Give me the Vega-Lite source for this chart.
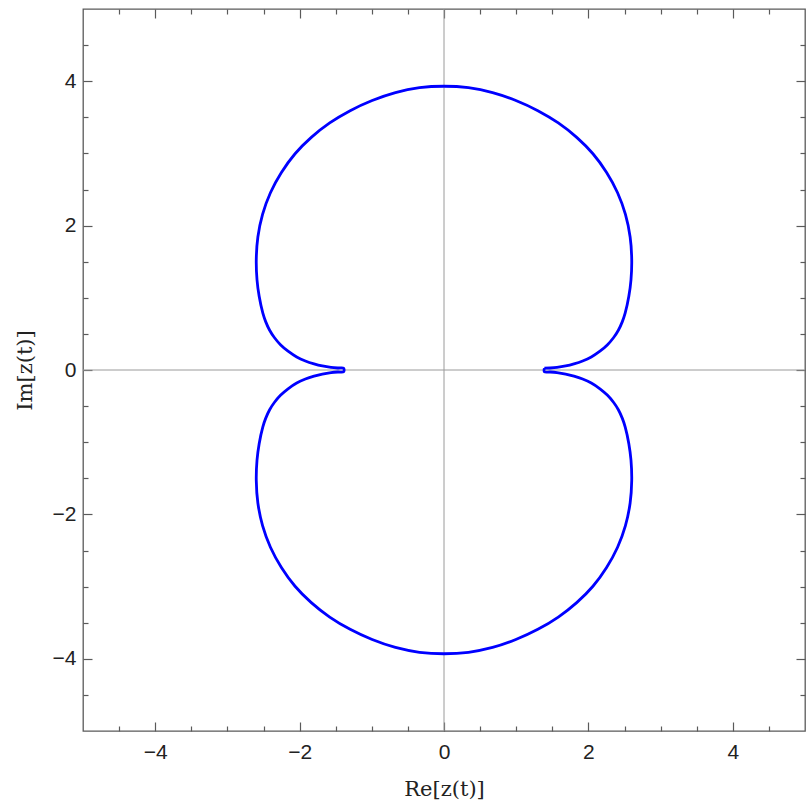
{
  "$schema": "https://vega.github.io/schema/vega-lite/v6.json",
  "width": 722,
  "height": 722,
  "autosize": {"type": "none"},
  "padding": {"left": 83, "top": 9, "right": 6, "bottom": 76},
  "background": "white",
  "config": {
    "view": {"stroke": "#5a5a5a", "strokeWidth": 1.3},
    "axis": {
      "domain": false,
      "grid": false,
      "tickColor": "#5a5a5a",
      "tickWidth": 1.2,
      "labelFont": "Liberation Sans",
      "labelFontSize": 21,
      "labelColor": "#222222",
      "titleFont": "DejaVu Serif",
      "titleFontSize": 21,
      "titleFontWeight": "normal",
      "titleColor": "#222222"
    }
  },
  "data": {
    "values": [
      {"i": 0, "x": 1.39, "y": 0.025},
      {"i": 1, "x": 1.47, "y": 0.028},
      {"i": 2, "x": 1.565, "y": 0.036},
      {"i": 3, "x": 1.685, "y": 0.056},
      {"i": 4, "x": 1.8, "y": 0.085},
      {"i": 5, "x": 1.92, "y": 0.125},
      {"i": 6, "x": 2.04, "y": 0.18},
      {"i": 7, "x": 2.16, "y": 0.26},
      {"i": 8, "x": 2.265, "y": 0.35},
      {"i": 9, "x": 2.35, "y": 0.45},
      {"i": 10, "x": 2.415, "y": 0.55},
      {"i": 11, "x": 2.47, "y": 0.67},
      {"i": 12, "x": 2.51, "y": 0.79},
      {"i": 13, "x": 2.56, "y": 1.02},
      {"i": 14, "x": 2.59, "y": 1.25},
      {"i": 15, "x": 2.6, "y": 1.53},
      {"i": 16, "x": 2.578, "y": 1.843},
      {"i": 17, "x": 2.513, "y": 2.155},
      {"i": 18, "x": 2.404, "y": 2.455},
      {"i": 19, "x": 2.252, "y": 2.735},
      {"i": 20, "x": 2.063, "y": 2.995},
      {"i": 21, "x": 1.838, "y": 3.222},
      {"i": 22, "x": 1.583, "y": 3.422},
      {"i": 23, "x": 1.3, "y": 3.592},
      {"i": 24, "x": 0.995, "y": 3.733},
      {"i": 25, "x": 0.673, "y": 3.843},
      {"i": 26, "x": 0.339, "y": 3.91},
      {"i": 27, "x": 0, "y": 3.93},
      {"i": 28, "x": -0.339, "y": 3.91},
      {"i": 29, "x": -0.673, "y": 3.843},
      {"i": 30, "x": -0.995, "y": 3.733},
      {"i": 31, "x": -1.3, "y": 3.592},
      {"i": 32, "x": -1.583, "y": 3.422},
      {"i": 33, "x": -1.838, "y": 3.222},
      {"i": 34, "x": -2.063, "y": 2.995},
      {"i": 35, "x": -2.252, "y": 2.735},
      {"i": 36, "x": -2.404, "y": 2.455},
      {"i": 37, "x": -2.513, "y": 2.155},
      {"i": 38, "x": -2.578, "y": 1.843},
      {"i": 39, "x": -2.6, "y": 1.53},
      {"i": 40, "x": -2.59, "y": 1.25},
      {"i": 41, "x": -2.56, "y": 1.02},
      {"i": 42, "x": -2.51, "y": 0.79},
      {"i": 43, "x": -2.47, "y": 0.67},
      {"i": 44, "x": -2.415, "y": 0.55},
      {"i": 45, "x": -2.35, "y": 0.45},
      {"i": 46, "x": -2.265, "y": 0.35},
      {"i": 47, "x": -2.16, "y": 0.26},
      {"i": 48, "x": -2.04, "y": 0.18},
      {"i": 49, "x": -1.92, "y": 0.125},
      {"i": 50, "x": -1.8, "y": 0.085},
      {"i": 51, "x": -1.685, "y": 0.056},
      {"i": 52, "x": -1.565, "y": 0.036},
      {"i": 53, "x": -1.47, "y": 0.028},
      {"i": 54, "x": -1.39, "y": 0.025},
      {"i": 55, "x": -1.39, "y": -0.025},
      {"i": 56, "x": -1.47, "y": -0.028},
      {"i": 57, "x": -1.565, "y": -0.036},
      {"i": 58, "x": -1.685, "y": -0.056},
      {"i": 59, "x": -1.8, "y": -0.085},
      {"i": 60, "x": -1.92, "y": -0.125},
      {"i": 61, "x": -2.04, "y": -0.18},
      {"i": 62, "x": -2.16, "y": -0.26},
      {"i": 63, "x": -2.265, "y": -0.35},
      {"i": 64, "x": -2.35, "y": -0.45},
      {"i": 65, "x": -2.415, "y": -0.55},
      {"i": 66, "x": -2.47, "y": -0.67},
      {"i": 67, "x": -2.51, "y": -0.79},
      {"i": 68, "x": -2.56, "y": -1.02},
      {"i": 69, "x": -2.59, "y": -1.25},
      {"i": 70, "x": -2.6, "y": -1.53},
      {"i": 71, "x": -2.578, "y": -1.843},
      {"i": 72, "x": -2.513, "y": -2.155},
      {"i": 73, "x": -2.404, "y": -2.455},
      {"i": 74, "x": -2.252, "y": -2.735},
      {"i": 75, "x": -2.063, "y": -2.995},
      {"i": 76, "x": -1.838, "y": -3.222},
      {"i": 77, "x": -1.583, "y": -3.422},
      {"i": 78, "x": -1.3, "y": -3.592},
      {"i": 79, "x": -0.995, "y": -3.733},
      {"i": 80, "x": -0.673, "y": -3.843},
      {"i": 81, "x": -0.339, "y": -3.91},
      {"i": 82, "x": 0, "y": -3.93},
      {"i": 83, "x": 0.339, "y": -3.91},
      {"i": 84, "x": 0.673, "y": -3.843},
      {"i": 85, "x": 0.995, "y": -3.733},
      {"i": 86, "x": 1.3, "y": -3.592},
      {"i": 87, "x": 1.583, "y": -3.422},
      {"i": 88, "x": 1.838, "y": -3.222},
      {"i": 89, "x": 2.063, "y": -2.995},
      {"i": 90, "x": 2.252, "y": -2.735},
      {"i": 91, "x": 2.404, "y": -2.455},
      {"i": 92, "x": 2.513, "y": -2.155},
      {"i": 93, "x": 2.578, "y": -1.843},
      {"i": 94, "x": 2.6, "y": -1.53},
      {"i": 95, "x": 2.59, "y": -1.25},
      {"i": 96, "x": 2.56, "y": -1.02},
      {"i": 97, "x": 2.51, "y": -0.79},
      {"i": 98, "x": 2.47, "y": -0.67},
      {"i": 99, "x": 2.415, "y": -0.55},
      {"i": 100, "x": 2.35, "y": -0.45},
      {"i": 101, "x": 2.265, "y": -0.35},
      {"i": 102, "x": 2.16, "y": -0.26},
      {"i": 103, "x": 2.04, "y": -0.18},
      {"i": 104, "x": 1.92, "y": -0.125},
      {"i": 105, "x": 1.8, "y": -0.085},
      {"i": 106, "x": 1.685, "y": -0.056},
      {"i": 107, "x": 1.565, "y": -0.036},
      {"i": 108, "x": 1.47, "y": -0.028},
      {"i": 109, "x": 1.39, "y": -0.025},
      {"i": 110, "x": 1.39, "y": 0.025}
    ]
  },
  "layer": [
    {
      "data": {"values": [{}]},
      "mark": {"type": "rule", "color": "#9a9a9a", "strokeWidth": 1},
      "encoding": {"x": {"datum": 0, "type": "quantitative", "axis": null}}
    },
    {
      "data": {"values": [{}]},
      "mark": {"type": "rule", "color": "#9a9a9a", "strokeWidth": 1},
      "encoding": {"y": {"datum": 0, "type": "quantitative", "axis": null}}
    },
    {
      "mark": {"type": "line", "color": "#0000ff", "strokeWidth": 2.8, "interpolate": "catmull-rom", "clip": true},
      "encoding": {
        "order": {"field": "i", "type": "quantitative"},
        "x": {
          "field": "x",
          "type": "quantitative",
          "scale": {"domain": [-5, 5], "nice": false, "zero": false},
          "axis": {
            "orient": "bottom",
            "values": [-4, -2, 0, 2, 4],
            "tickSize": -9,
            "labelPadding": 19,
            "title": "Re[z(t)]",
            "titleX": 361,
            "titleY": 64,
            "titleBaseline": "alphabetic"
          }
        },
        "y": {
          "field": "y",
          "type": "quantitative",
          "scale": {"domain": [-5, 5], "nice": false, "zero": false},
          "axis": {
            "orient": "left",
            "values": [-4, -2, 0, 2, 4],
            "tickSize": -9,
            "labelPadding": 16,
            "title": "Im[z(t)]",
            "titleX": -52,
            "titleY": 361,
            "titleBaseline": "alphabetic"
          }
        }
      }
    },
    {
      "mark": {"type": "point", "opacity": 0},
      "encoding": {
        "x": {"field": "x", "type": "quantitative", "axis": {"orient": "top", "values": [-4, -2, 0, 2, 4], "tickSize": -9, "labels": false, "title": null}},
        "y": {"field": "y", "type": "quantitative", "axis": {"orient": "right", "values": [-4, -2, 0, 2, 4], "tickSize": -9, "labels": false, "title": null}}
      }
    },
    {
      "mark": {"type": "point", "opacity": 0},
      "encoding": {
        "x": {"field": "x", "type": "quantitative", "axis": {"orient": "bottom", "values": [-4.5, -3.5, -3, -2.5, -1.5, -1, -0.5, 0.5, 1, 1.5, 2.5, 3, 3.5, 4.5], "tickSize": -5, "labels": false, "title": null}},
        "y": {"field": "y", "type": "quantitative", "axis": {"orient": "left", "values": [-4.5, -3.5, -3, -2.5, -1.5, -1, -0.5, 0.5, 1, 1.5, 2.5, 3, 3.5, 4.5], "tickSize": -5, "labels": false, "title": null}}
      }
    },
    {
      "mark": {"type": "point", "opacity": 0},
      "encoding": {
        "x": {"field": "x", "type": "quantitative", "axis": {"orient": "top", "values": [-4.5, -3.5, -3, -2.5, -1.5, -1, -0.5, 0.5, 1, 1.5, 2.5, 3, 3.5, 4.5], "tickSize": -5, "labels": false, "title": null}},
        "y": {"field": "y", "type": "quantitative", "axis": {"orient": "right", "values": [-4.5, -3.5, -3, -2.5, -1.5, -1, -0.5, 0.5, 1, 1.5, 2.5, 3, 3.5, 4.5], "tickSize": -5, "labels": false, "title": null}}
      }
    }
  ],
  "resolve": {"axis": {"x": "independent", "y": "independent"}}
}
